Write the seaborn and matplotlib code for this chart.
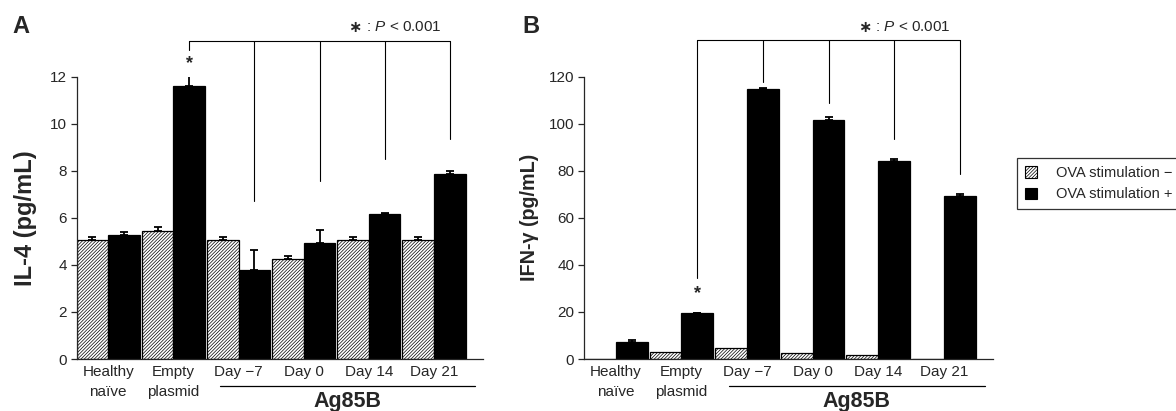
import numpy as np
import pandas as pd
import matplotlib
matplotlib.use("Agg")
import matplotlib.pyplot as plt
import matplotlib.transforms as mtransforms
from matplotlib.patches import Patch
import seaborn as sns

# --- data ---
groups = ["Healthy\nnaïve", "Empty\nplasmid", "Day \u22127", "Day 0", "Day 14", "Day 21"]
stim_levels = ["OVA stimulation \u2212", "OVA stimulation +"]

il4_minus = [5.05, 5.45, 5.05, 4.25, 5.05, 5.05]
il4_minus_err = [0.12, 0.15, 0.12, 0.12, 0.15, 0.15]
il4_plus = [5.25, 11.6, 3.8, 4.95, 6.15, 7.85]
il4_plus_err = [0.15, 0.8, 0.85, 0.55, 0.06, 0.14]

ifn_minus = [0.0, 3.1, 4.5, 2.5, 1.7, 0.0]
ifn_minus_err = [0, 0, 0, 0, 0, 0]
ifn_plus = [7.1, 19.4, 114.7, 101.7, 84.0, 69.2]
ifn_plus_err = [1.1, 0.3, 0.4, 1.3, 1.1, 1.1]

sns.set_style("ticks")
plt.rcParams["font.family"] = ["Liberation Sans", "DejaVu Sans"]
plt.rcParams["mathtext.fontset"] = "custom"
plt.rcParams["mathtext.it"] = "Liberation Sans:italic"
plt.rcParams["mathtext.rm"] = "Liberation Sans"
plt.rcParams["hatch.linewidth"] = 0.5
plt.rcParams["hatch.color"] = "#333333"

BAR_W = 0.97
HATCH = "/" * 10


def long_table(minus, plus):
    rows = []
    for g, m, p in zip(groups, minus, plus):
        rows.append((g, stim_levels[0], m))
        rows.append((g, stim_levels[1], p))
    return pd.DataFrame(rows, columns=["group", "stim", "value"])


def draw_panel(ax, minus, minus_err, plus, plus_err, ymax, ystep, ylabel,
               ylabel_size, labelpad, drops, star_y, bracket_y, text_y):
    df = long_table(minus, plus)
    sns.barplot(data=df, x="group", y="value", hue="stim", order=groups,
                hue_order=stim_levels, palette=["white", "black"],
                width=BAR_W, edgecolor="black", linewidth=0.9,
                errorbar=None, legend=False, ax=ax)
    for bar in ax.containers[0]:
        bar.set_hatch(HATCH)

    off = BAR_W / 4
    x = np.arange(len(groups))
    for xs, vals, errs in [(x - off, minus, minus_err), (x + off, plus, plus_err)]:
        vals = np.asarray(vals)
        errs = np.asarray(errs)
        keep = errs > 0
        if keep.any():
            ax.errorbar(xs[keep], vals[keep], yerr=[np.zeros(keep.sum()), errs[keep]],
                        fmt="none", ecolor="black", elinewidth=1.3,
                        capsize=3.2, capthick=1.3, zorder=3)

    ax.set_xlim(-0.485, 5.75)
    ax.set_ylim(0, ymax)
    ax.set_yticks(np.arange(0, ymax + 0.1, ystep))
    ax.set_xlabel("")
    ax.set_ylabel(ylabel, fontsize=ylabel_size, fontweight="bold", labelpad=labelpad)
    ax.tick_params(axis="x", length=0, labelsize=11, pad=4)
    ax.tick_params(axis="y", length=4, width=0.9, labelsize=11, pad=3)
    for lab in ax.get_xticklabels():
        lab.set_linespacing(1.55)
    sns.despine(ax=ax)
    for s in ["left", "bottom"]:
        ax.spines[s].set_linewidth(0.9)

    # significance bracket from the empty-plasmid bar to every Ag85B bar
    xb = x + off
    ax.plot([xb[1], xb[5]], [bracket_y, bracket_y], color="black", lw=0.8, clip_on=False)
    for i, d in zip(range(1, 6), drops):
        ax.plot([xb[i], xb[i]], [bracket_y, d], color="black", lw=0.8, clip_on=False)
    ax.text(xb[1], star_y, "*", ha="center", va="center", fontsize=13,
            fontweight="bold", clip_on=False)
    star = ax.text(3.79, text_y, "\u2217", ha="center", va="center",
                   fontsize=11.5, fontweight="bold", family="DejaVu Sans")
    ax.annotate(" : $\\mathit{P}$ < 0.001", xy=(1, 0.5), xycoords=star,
                ha="left", va="center", fontsize=11)

    # Ag85B group underline
    tr = mtransforms.blended_transform_factory(ax.transData, ax.transAxes)
    ax.plot([1.72, 5.63], [-0.095, -0.095], color="black", lw=0.9,
            transform=tr, clip_on=False)
    ax.text(3.675, -0.171, "Ag85B", ha="center", va="baseline", fontsize=15.5,
            fontweight="bold", transform=tr)


fig = plt.figure(figsize=(11.76, 4.11), dpi=100)
ax_a = fig.add_axes([0.0652, 0.1265, 0.3454, 0.6869])
ax_b = fig.add_axes([0.4966, 0.1265, 0.3478, 0.6869])

draw_panel(ax_a, il4_minus, il4_minus_err, il4_plus, il4_plus_err, 12, 2,
           "IL-4 (pg/mL)", 17, 9.5, [13.12, 6.71, 7.56, 8.52, 9.37], 12.56, 13.52, 14.1)
draw_panel(ax_b, ifn_minus, ifn_minus_err, ifn_plus, ifn_plus_err, 120, 20,
           "IFN-\u03b3 (pg/mL)", 14.2, 7, [34.4, 117.8, 108.8, 93.7, 78.6], 27.6, 135.5, 141)

fig.text(0.0102, 0.92, "A", fontsize=17, fontweight="bold", ha="left", va="baseline")
fig.text(0.444, 0.92, "B", fontsize=17, fontweight="bold", ha="left", va="baseline")

handles = [Patch(facecolor="white", edgecolor="black", hatch=HATCH, linewidth=0.8),
           Patch(facecolor="black", edgecolor="black", linewidth=0.8)]
leg = fig.legend(handles, stim_levels, loc="upper left",
                 bbox_to_anchor=(1017 / 1176, 1 - 158 / 411), fontsize=10.5,
                 frameon=True, fancybox=False, handlelength=0.8, handleheight=0.8,
                 handletextpad=1.3, borderpad=0.55, labelspacing=0.5,
                 borderaxespad=0)
leg.get_frame().set_edgecolor("black")
leg.get_frame().set_linewidth(0.9)

fig.savefig("out.png", dpi=100)
